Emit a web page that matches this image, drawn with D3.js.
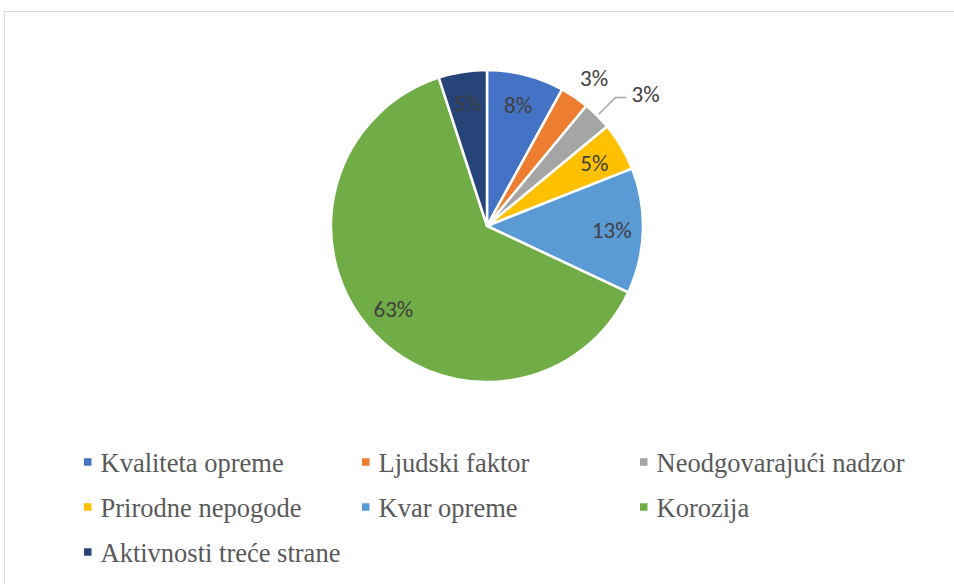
<!DOCTYPE html>
<html>
<head>
<meta charset="utf-8">
<script src="https://cdn.jsdelivr.net/npm/d3@7"></script>
<style>
  body { margin: 0; background: #fff; }
</style>
</head>
<body>
<div id="chart"></div>
<script>
// Chart data
const categories = ["Kvaliteta opreme", "Ljudski faktor", "Neodgovarajući nadzor",
    "Prirodne nepogode", "Kvar opreme", "Korozija", "Aktivnosti treće strane"];
const values = [8, 3, 3, 5, 13, 63, 5];
const colors = ["#4472c4", "#ed7d31", "#a5a5a5", "#ffc000", "#5b9bd5", "#70ad47", "#264478"];

const width = 954;
const height = 584;
const cx = 487, cy = 226, radius = 156;

const svg = d3.select("#chart")
    .append("svg")
    .attr("width", width)
    .attr("height", height);

// Chart frame
svg.append("rect")
    .attr("x", 4.5)
    .attr("y", 11.5)
    .attr("width", width + 10)
    .attr("height", height)
    .attr("fill", "none")
    .attr("stroke", "#d9d9d9")
    .attr("stroke-width", 1);

const pie = d3.pie().sort(null).value(d => d.value);
const arcs = pie(categories.map((c, i) => ({ name: c, value: values[i], color: colors[i] })));

const arc = d3.arc().innerRadius(0).outerRadius(radius);
const labelArc = d3.arc().innerRadius(radius * 0.8).outerRadius(radius * 0.8);

const g = svg.append("g").attr("transform", `translate(${cx},${cy})`);

g.selectAll("path")
    .data(arcs)
    .enter().append("path")
    .attr("d", arc)
    .attr("fill", d => d.data.color)
    .attr("stroke", "#fff")
    .attr("stroke-width", 2.5)
    .attr("stroke-linejoin", "round");

const labelFont = "Carlito";
const labelSize = 23;
const small = d => d.data.value < 4;

// Inside labels
g.selectAll("text.inside")
    .data(arcs.filter(d => !small(d)))
    .enter().append("text")
    .attr("class", "inside")
    .attr("transform", d => `translate(${labelArc.centroid(d)})`)
    .attr("text-anchor", "middle")
    .attr("dy", "0.35em")
    .attr("font-family", labelFont)
    .attr("font-size", labelSize)
    .attr("fill", "#404040")
    .text(d => d.data.value + "%");

// Outside labels (first small slice sits freely, second uses a leader line)
const outs = arcs.filter(small);
const mid = d => (d.startAngle + d.endAngle) / 2;
const pt = (a, r) => [Math.sin(a) * r, -Math.cos(a) * r];

outs.forEach((d, i) => {
    const a = mid(d);
    if (i === 0) {
        const p = pt(a + 0.03, radius * 1.17);
        g.append("text")
            .attr("x", p[0]).attr("y", p[1])
            .attr("text-anchor", "middle")
            .attr("dy", "0.35em")
            .attr("font-family", labelFont)
            .attr("font-size", labelSize)
            .attr("fill", "#404040")
            .text(d.data.value + "%");
    } else {
        const p0 = pt(a, radius + 2);
        const p1 = pt(a, radius * 1.165);
        const p2 = [p1[0] + 11, p1[1]];
        g.append("path")
            .attr("d", d3.line()([p0, p1, p2]))
            .attr("fill", "none")
            .attr("stroke", "#a6a6a6")
            .attr("stroke-width", 1.5);
        g.append("text")
            .attr("x", p2[0] + 5).attr("y", p2[1] - 4)
            .attr("text-anchor", "start")
            .attr("dy", "0.35em")
            .attr("font-family", labelFont)
            .attr("font-size", labelSize)
            .attr("fill", "#404040")
            .text(d.data.value + "%");
    }
});

// Legend, three columns
const legend = svg.append("g");
const colX = [84, 362, 640];
const rowY = [462, 507, 552];

const item = legend.selectAll("g")
    .data(arcs)
    .enter().append("g")
    .attr("transform", (d, i) => `translate(${colX[i % 3]},${rowY[Math.floor(i / 3)]})`);

item.append("rect")
    .attr("x", 0).attr("y", -3.75)
    .attr("width", 7.5).attr("height", 7.5)
    .attr("fill", d => d.data.color);

item.append("text")
    .attr("x", 16.5)
    .attr("y", 9.7)
    .attr("font-family", "Liberation Serif")
    .attr("font-size", 26.5)
    .attr("fill", "#595959")
    .text(d => d.data.name);
</script>
</body>
</html>
